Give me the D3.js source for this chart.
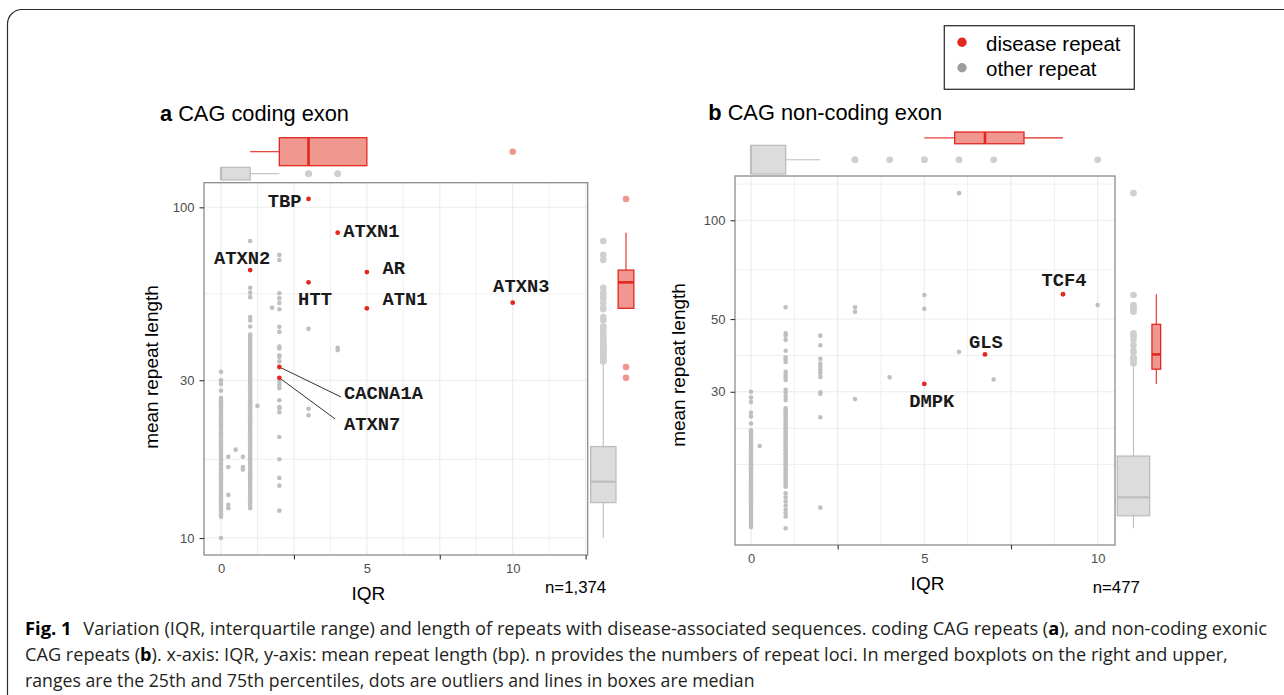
<!DOCTYPE html>
<html lang="en">
<head>
<meta charset="UTF-8"/>
<title>CAG repeats: IQR vs mean repeat length</title>
<script src="https://d3js.org/d3.v7.min.js" charset="utf-8"></script>
<style type="text/css">
    body { margin: 0; background: #fff; }
    svg { display: block; }
    text { font-family: "Liberation Sans", Arial, sans-serif; fill: #000; }
    .lab { font-family: "Liberation Mono", "DejaVu Sans Mono", monospace; font-weight: 700; font-size: 18.8px; fill: #1a1a1a; }
    .tick text { font-family: "Liberation Sans", Arial, sans-serif; font-size: 13px; fill: #4d4d4d; }
    .tick line { stroke: #333; stroke-width: 1.1; }
    .caption { font-family: "Open Sans", "Noto Sans", sans-serif; font-size: 18.5px; fill: #231f20; }
</style>
</head>
<body>
<div id="figure"></div>
<script type="text/javascript">

// ---------- panel a: CAG coding exon ----------
var geneA = ["TBP", "ATXN1", "ATXN2", "AR", "HTT", "ATN1", "ATXN3", "CACNA1A", "ATXN7"];
var iqrA  = [3, 4, 1, 5, 3, 5, 10, 2, 2];
var lenA  = [106, 83.8, 64.6, 63.7, 59.3, 49.5, 51.5, 32.9, 30.5];

// other repeats, mean length read per IQR column (dense stacks read dot by dot)
var otherA0 = [31.8, 30.0, 29.2, 27.9, 26.5, 26.1, 25.7, 25.4, 25.0, 24.7, 24.3, 24.0, 23.6, 23.3, 23.0, 22.7,
               22.4, 22.1, 21.8, 21.5, 21.2, 20.9, 20.6, 20.3, 20.0, 19.7, 19.4, 19.2, 18.9, 18.7, 18.4, 18.2,
               17.9, 17.7, 17.4, 17.2, 16.9, 16.7, 16.4, 16.2, 16.0, 15.8, 15.6, 15.4, 15.2, 15.0, 14.8, 14.6,
               14.4, 14.2, 14.0, 13.8, 13.6, 13.4, 13.2, 13.0, 12.85, 12.7, 12.5, 12.3, 12.15, 12.0, 11.8, 11.6,
               10.0];
var otherA1 = [79.1, 57.1, 55.2, 53.5, 46.6, 45.5, 43.6, 41.2, 40.6, 40.0, 39.5, 38.9, 38.4, 37.8, 37.3, 36.8,
               36.3, 35.8, 35.3, 34.8, 34.3, 33.8, 33.4, 32.9, 32.5, 32.0, 31.6, 31.1, 30.7, 30.3, 29.9, 29.5,
               29.1, 28.7, 28.3, 27.9, 27.5, 27.1, 26.8, 26.4, 26.1, 25.7, 25.4, 25.0, 24.7, 24.3, 24.0, 23.6,
               23.3, 23.0, 22.7, 22.4, 22.1, 21.8, 21.5, 21.2, 20.9, 20.6, 20.3, 20.0, 19.7, 19.4, 19.2, 18.9,
               18.7, 18.4, 18.2, 17.9, 17.7, 17.4, 17.2, 16.9, 16.7, 16.4, 16.2, 16.0, 15.8, 15.6, 15.4, 15.2,
               15.0, 14.8, 14.6, 14.4, 14.2, 14.0, 13.8, 13.6, 13.4, 13.2, 13.0, 12.85, 12.7, 12.5, 12.3];
var otherA2 = [71.8, 69.3, 55.0, 53.1, 51.4, 49.2, 43.5, 42.0, 37.9, 37.4, 35.7, 35.3, 34.2, 29.7, 29.0, 28.4,
               26.1, 24.9, 24.7, 24.0, 20.2, 17.3, 15.2, 14.4, 12.1];
var otherAextra = [[0.25, 17.6], [0.25, 16.4], [0.25, 13.5], [0.25, 12.6], [0.25, 12.3], [0.5, 18.5],
                   [0.75, 17.6], [0.75, 16.4], [0.75, 16.1], [1.25, 25.1], [1.75, 49.7], [3, 42.9],
                   [3, 24.6], [3, 23.5], [4, 37.6], [4, 37.0]];
// quartiles of the other repeats (q1, median, q3)
var otherBoxIqrA = [0, 0, 1];
var otherBoxLenA = [12.8, 14.8, 18.9];

// ---------- panel b: CAG non-coding exon ----------
var geneB = ["TCF4", "GLS", "DMPK"];
var iqrB  = [9, 6.75, 5];
var lenB  = [59.5, 39.0, 31.7];

var otherB0 = [30.0, 28.8, 27.9, 25.9, 25.2, 24.0, 22.9, 22.6, 22.3, 22.0, 21.7, 21.4, 21.1, 20.8, 20.5, 20.2,
               19.9, 19.6, 19.4, 19.1, 18.9, 18.6, 18.4, 18.1, 17.9, 17.6, 17.4, 17.1, 16.9, 16.6, 16.4, 16.2,
               16.0, 15.8, 15.6, 15.4, 15.2, 15.0, 14.8, 14.6, 14.4, 14.2, 14.0, 13.8, 13.6, 13.4, 13.2, 13.0,
               12.8, 12.6, 12.4, 12.2, 12.0, 11.8, 11.6];
var otherB1 = [54.3, 45.2, 44.5, 43.2, 40.0, 38.2, 37.6, 37.0, 34.5, 33.8, 33.2, 32.6, 30.4, 29.8, 29.0, 28.3,
               26.7, 26.3, 26.0, 25.6, 25.3, 24.9, 24.6, 24.2, 23.9, 23.6, 23.3, 23.0, 22.7, 22.4, 22.1, 21.8,
               21.5, 21.2, 20.9, 20.6, 20.3, 20.0, 19.8, 19.5, 19.3, 19.0, 18.8, 18.5, 18.3, 18.0, 17.8, 17.5,
               17.3, 17.0, 16.8, 16.5, 16.3, 16.1, 15.9, 15.6, 15.4, 14.7, 14.3, 13.9, 13.5, 13.1, 12.8, 12.5,
               11.5];
var otherB2 = [44.5, 41.6, 37.8, 36.6, 35.8, 35.0, 34.2, 33.3, 29.9, 29.6, 25.1, 13.3];
var otherBextra = [[0.25, 20.5], [3, 54.3], [3, 52.6], [3, 28.5], [4, 33.2], [5, 59.2], [5, 53.7],
                   [6, 121], [6, 39.7], [7, 32.7], [10, 55.2]];
var otherBoxIqrB = [0, 0, 1];
var otherBoxLenB = [12.56, 14.3, 19.1];

// ---------- ticks ----------
var xLabels  = [0, 5, 10];
var xMarksA  = [2.5, 7.5, 12.5];
var xMarksB  = [2.5, 7.5];
var yTicksA  = [10, 30, 100];
var yGridA   = [10, 17.3, 30, 54.8, 100];
var yTicksB  = [30, 50, 100];
var yGridB   = [18.0, 23.2, 30, 38.7, 50, 70.7, 100, 129];

var RED = "#e2281e", RED_FILL = "#f0978f", RED_OUT = "#f1958e";
var GREY_PT = "#bfbfbf", GREY_FILL = "#dcdcdc", GREY_LINE = "#bdbdbd", GREY_OUT = "#cfcfcf";

var svg = d3.select("#figure").append("svg").attr("width", 1284).attr("height", 695);
svg.append("rect").attr("width", 1284).attr("height", 695).attr("fill", "#fff");

// rounded frame of the figure
svg.append("path")
    .attr("d", "M7.5,695V24A14.5,14.5 0 0 1 22,9.5H1284")
    .attr("fill", "none").attr("stroke", "#2b2b2b").attr("stroke-width", 1.2);

function columns(cols, extra) {
    var pts = [];
    cols.forEach(function (c) { c[1].forEach(function (v) { pts.push([c[0], v]); }); });
    return pts.concat(extra);
}

// boxplot stats like ggplot: quartiles (given or computed), 1.5*IQR whiskers, outliers
function boxStats(vals, log, given) {
    var f = log ? Math.log10 : function (v) { return v; };
    var inv = log ? function (v) { return Math.pow(10, v); } : f;
    var t = vals.map(f).sort(d3.ascending);
    var q1 = given ? f(given[0]) : d3.quantile(t, 0.25),
        md = given ? f(given[1]) : d3.quantile(t, 0.5),
        q3 = given ? f(given[2]) : d3.quantile(t, 0.75);
    var lo = q1 - 1.5 * (q3 - q1), hi = q3 + 1.5 * (q3 - q1);
    var inside = t.filter(function (v) { return v >= lo - 1e-9 && v <= hi + 1e-9; });
    return {
        q1: inv(q1), med: inv(md), q3: inv(q3),
        wLo: inv(d3.min(inside)), wHi: inv(d3.max(inside)),
        out: t.filter(function (v) { return v < lo - 1e-9 || v > hi + 1e-9; }).map(inv)
    };
}

function drawBox(g, s, st, horiz, c, half, line, fill, outFill, medW) {
    var b = g.append("g");
    function seg(a, z, w) {
        var l = b.append("line").attr("stroke", line).attr("stroke-width", w);
        if (horiz) l.attr("x1", s(a)).attr("x2", s(z)).attr("y1", c).attr("y2", c);
        else l.attr("y1", s(a)).attr("y2", s(z)).attr("x1", c).attr("x2", c);
    }
    seg(st.wLo, st.q1, 1.1);
    seg(st.q3, st.wHi, 1.1);
    var r = b.append("rect").attr("fill", fill).attr("stroke", line).attr("stroke-width", 1.3);
    if (horiz) r.attr("x", s(st.q1)).attr("width", s(st.q3) - s(st.q1)).attr("y", c - half).attr("height", 2 * half);
    else r.attr("y", s(st.q3)).attr("height", s(st.q1) - s(st.q3)).attr("x", c - half).attr("width", 2 * half);
    var m = b.append("line").attr("stroke", line).attr("stroke-width", medW);
    if (horiz) m.attr("x1", s(st.med)).attr("x2", s(st.med)).attr("y1", c - half).attr("y2", c + half);
    else m.attr("y1", s(st.med)).attr("y2", s(st.med)).attr("x1", c - half).attr("x2", c + half);
    b.selectAll("circle").data(st.out).join("circle")
        .attr("cx", function (v) { return horiz ? s(v) : c; })
        .attr("cy", function (v) { return horiz ? c : s(v); })
        .attr("r", 3.3).attr("fill", outFill);
}

function drawPanel(P) {
    var g = svg.append("g");
    var x = d3.scaleLinear().domain(P.xDomain).range([P.left, P.right]);
    var y = d3.scaleLog().domain(P.yDomain).range([P.bottom, P.top]);

    // grid
    g.selectAll("line.gx").data(d3.range(0, P.xDomain[1], 1.25)).join("line").attr("class", "gx")
        .attr("x1", function (d) { return x(d); }).attr("x2", function (d) { return x(d); })
        .attr("y1", P.top).attr("y2", P.bottom)
        .attr("stroke", "#ebebeb").attr("stroke-width", function (d) { return d % 2.5 === 0 ? 1.1 : 0.8; });
    g.selectAll("line.gy").data(P.yGrid).join("line").attr("class", "gy")
        .attr("x1", P.left).attr("x2", P.right)
        .attr("y1", function (d) { return y(d); }).attr("y2", function (d) { return y(d); })
        .attr("stroke", "#ebebeb").attr("stroke-width", function (d) { return P.yTicks.indexOf(d) >= 0 ? 1.1 : 0.8; });

    // other repeats
    g.append("g").selectAll("circle").data(P.other).join("circle")
        .attr("cx", function (d) { return x(d[0]); }).attr("cy", function (d) { return y(d[1]); })
        .attr("r", 2.3).attr("fill", GREY_PT);

    var dis = P.genes.map(function (n, i) { return {gene: n, iqr: P.iqr[i], len: P.len[i]}; });

    // leader lines
    g.selectAll("line.lead").data(dis.filter(function (d) { return P.leaders[d.gene]; })).join("line")
        .attr("class", "lead")
        .attr("x1", function (d) { return x(d.iqr); }).attr("y1", function (d) { return y(d.len); })
        .attr("x2", function (d) { return x(d.iqr) + P.leaders[d.gene][0]; })
        .attr("y2", function (d) { return y(d.len) + P.leaders[d.gene][1]; })
        .attr("stroke", "#333").attr("stroke-width", 1);

    // disease repeats
    g.append("g").selectAll("circle").data(dis).join("circle")
        .attr("cx", function (d) { return x(d.iqr); }).attr("cy", function (d) { return y(d.len); })
        .attr("r", 2.4).attr("fill", RED);

    // panel border
    g.append("rect").attr("x", P.left).attr("y", P.top)
        .attr("width", P.right - P.left).attr("height", P.bottom - P.top)
        .attr("fill", "none").attr("stroke", "#8c8c8c").attr("stroke-width", 1.3);

    // axes
    g.append("g").attr("transform", "translate(" + P.left + ",0)")
        .call(d3.axisLeft(y).tickValues(P.yTicks).tickFormat(d3.format("d")).tickSize(4.5).tickPadding(5))
        .call(function (s) { s.select(".domain").remove(); });
    g.append("g").attr("transform", "translate(0," + P.bottom + ")")
        .call(d3.axisBottom(x).tickValues(xLabels).tickSize(0).tickPadding(9))
        .call(function (s) { s.select(".domain").remove(); });
    g.append("g").attr("transform", "translate(0," + P.bottom + ")")
        .call(d3.axisBottom(x).tickValues(P.xMarks).tickFormat("").tickSize(4.5))
        .call(function (s) { s.select(".domain").remove(); });

    // gene labels
    g.selectAll("text.lab").data(dis).join("text").attr("class", "lab")
        .attr("x", function (d) { return x(d.iqr) + P.nudge[d.gene][0]; })
        .attr("y", function (d) { return y(d.len) + P.nudge[d.gene][1]; })
        .attr("text-anchor", function (d) { return P.nudge[d.gene][2]; })
        .text(function (d) { return d.gene; });

    // marginal boxplots: top = IQR, right = mean length
    var otherIqr = P.other.map(function (d) { return d[0]; });
    var otherLen = P.other.map(function (d) { return d[1]; });
    drawBox(g, x, boxStats(P.iqr, false), true, P.topRed[0], P.topRed[1], RED, RED_FILL, RED_OUT, 2.6);
    drawBox(g, x, boxStats(otherIqr, false, P.boxIqr), true, P.topGrey[0], P.topGrey[1], GREY_LINE, GREY_FILL, GREY_OUT, 2.2);
    drawBox(g, y, boxStats(P.len, true), false, P.rightRed[0], P.rightRed[1], RED, RED_FILL, RED_OUT, 2.6);
    drawBox(g, y, boxStats(otherLen, true, P.boxLen), false, P.rightGrey[0], P.rightGrey[1], GREY_LINE, GREY_FILL, GREY_OUT, 2.2);

    // titles
    var t = g.append("text").attr("x", P.titleX).attr("y", P.titleY).attr("font-size", 21.8);
    t.append("tspan").attr("font-weight", 700).text(P.letter);
    t.append("tspan").attr("dx", 6).text(P.title);

    g.append("text").attr("x", P.xTitle[0]).attr("y", P.xTitle[1]).attr("text-anchor", "middle")
        .attr("font-size", 19).text("IQR");
    g.append("text").attr("transform", "translate(" + P.yTitle[0] + "," + P.yTitle[1] + ") rotate(-90)")
        .attr("text-anchor", "middle").attr("font-size", 19).text("mean repeat length");
    g.append("text").attr("x", P.nPos[0]).attr("y", P.nPos[1]).attr("font-size", 16.8)
        .attr("fill", "#1a1a1a").text(P.n);
}

drawPanel({
    letter: "a", title: "CAG coding exon", titleX: 160, titleY: 120.5,
    left: 204, right: 587.7, top: 182.7, bottom: 555,
    xDomain: [-0.583, 12.571], yDomain: [8.885, 118.7],
    yTicks: yTicksA, yGrid: yGridA, xMarks: xMarksA,
    genes: geneA, iqr: iqrA, len: lenA,
    other: columns([[0, otherA0], [1, otherA1], [2, otherA2]], otherAextra),
    boxIqr: otherBoxIqrA, boxLen: otherBoxLenA,
    topRed: [151.7, 14], topGrey: [173.7, 6.3], rightRed: [626, 7.85], rightGrey: [603.3, 12.65],
    nudge: {
        TBP: [-7, 8, "end"], ATXN1: [5.6, 4, "start"], ATXN2: [-8, -6, "middle"],
        AR: [15.6, 2.3, "start"], HTT: [-10.4, 22.7, "start"], ATN1: [15.6, -3.3, "start"],
        ATXN3: [8.6, -10.7, "middle"], CACNA1A: [64.7, 32.3, "start"], ATXN7: [64.7, 52, "start"]
    },
    leaders: {CACNA1A: [61.7, 30], ATXN7: [55.7, 41]},
    xTitle: [368.3, 600], yTitle: [158, 367], nPos: [545, 593.3], n: "n=1,374"
});

drawPanel({
    letter: "b", title: "CAG non-coding exon", titleX: 708.3, titleY: 120,
    left: 735, right: 1115, top: 176, bottom: 545,
    xDomain: [-0.4615, 10.5], yDomain: [10.23, 136.5],
    yTicks: yTicksB, yGrid: yGridB, xMarks: xMarksB,
    genes: geneB, iqr: iqrB, len: lenB,
    other: columns([[0, otherB0], [1, otherB1], [2, otherB2]], otherBextra),
    boxIqr: otherBoxIqrB, boxLen: otherBoxLenB,
    topRed: [137.9, 5.85], topGrey: [159.7, 14.35], rightRed: [1156.3, 4.35], rightGrey: [1133.5, 16.2],
    nudge: {
        TCF4: [1, -8.6, "middle"], GLS: [1, -6.6, "middle"], DMPK: [7.5, 22.7, "middle"]
    },
    leaders: {},
    xTitle: [927.5, 590], yTitle: [685, 365], nPos: [1092.7, 592.7], n: "n=477"
});

// legend
var leg = svg.append("g");
leg.append("rect").attr("x", 944.3).attr("y", 25.7).attr("width", 190).attr("height", 63.6)
    .attr("fill", "#fff").attr("stroke", "#333").attr("stroke-width", 1.3);
var legKeys = ["disease repeat", "other repeat"];
var legCols = [RED, "#9e9e9e"];
leg.selectAll("circle").data(legKeys).join("circle")
    .attr("cx", 962).attr("cy", function (d, i) { return 42.3 + i * 25.4; })
    .attr("r", 4.7).attr("fill", function (d, i) { return legCols[i]; });
leg.selectAll("text").data(legKeys).join("text")
    .attr("x", 986).attr("y", function (d, i) { return 51 + i * 24.5; })
    .attr("font-size", 20.5).text(function (d) { return d; });

// caption: each line squeezed horizontally to its measured width (condensed face)
var cap = svg.append("g");
function capLine(x, y, width, parts, bold) {
    var t = cap.append("text").attr("class", "caption");
    if (bold) t.attr("font-weight", 700).style("fill", "#000");
    parts.forEach(function (p) {
        t.append("tspan").attr("font-weight", p[1] ? 700 : null).style("fill", p[1] ? "#000" : null).text(p[0]);
    });
    var w = t.node().getComputedTextLength();
    t.attr("transform", "translate(" + x + "," + y + ") scale(" + (width / w) + ",1)");
}
capLine(25, 635, 46.7, [["Fig. 1", true]], true);
capLine(83.3, 635, 1185, [
    ["Variation (IQR, interquartile range) and length of repeats with disease-associated sequences. coding CAG repeats ("],
    ["a", true], ["), and non-coding exonic"]]);
capLine(25, 661, 1203, [
    ["CAG repeats ("], ["b", true],
    ["). x-axis: IQR, y-axis: mean repeat length (bp). n provides the numbers of repeat loci. In merged boxplots on the right and upper,"]]);
capLine(25, 687, 730, [["ranges are the 25th and 75th percentiles, dots are outliers and lines in boxes are median"]]);

</script>
</body>
</html>
